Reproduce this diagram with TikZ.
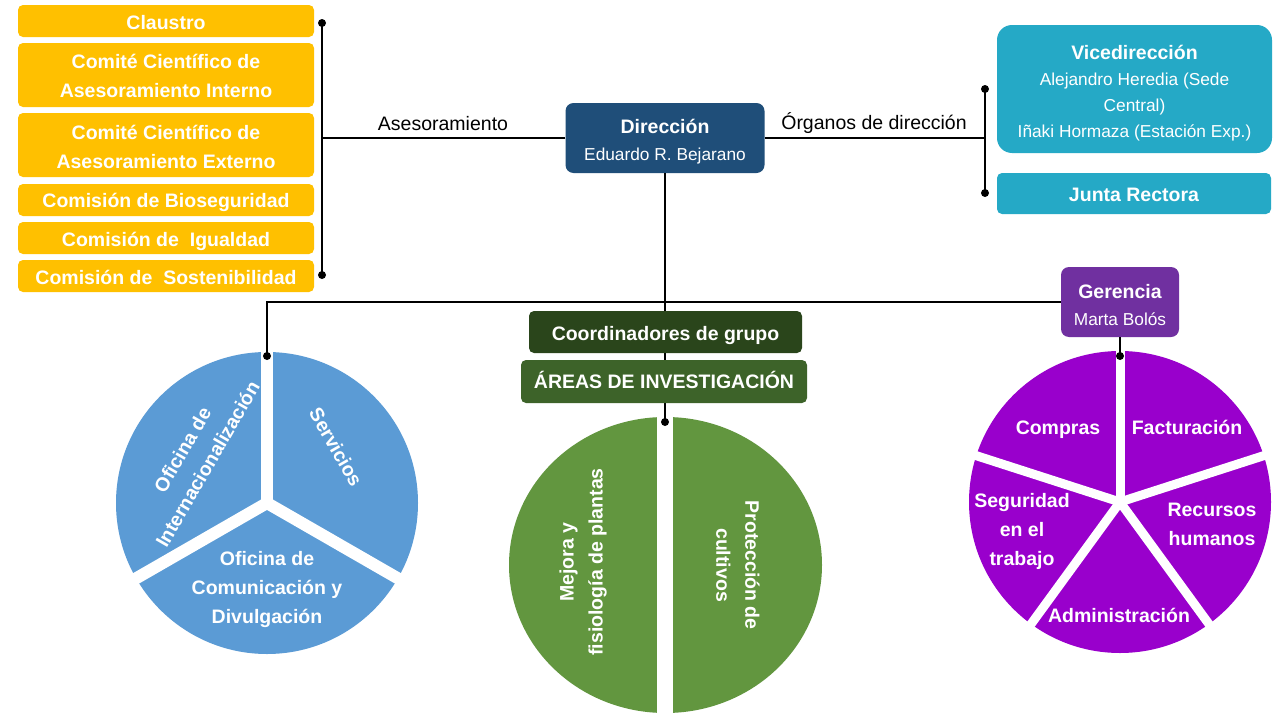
\documentclass[tikz,border=0pt]{standalone}
\usepackage{fontspec}
\setmainfont{Liberation Sans}
\usetikzlibrary{calc}
\definecolor{cYel}{HTML}{FFC000}
\definecolor{cDir}{HTML}{1F4E79}
\definecolor{cTeal}{HTML}{25A9C6}
\definecolor{cGer}{HTML}{7030A0}
\definecolor{cCoord}{HTML}{2A451B}
\definecolor{cArea}{HTML}{3D6329}
\definecolor{cGreen}{HTML}{62963F}
\definecolor{cBlue}{HTML}{5B9BD5}
\definecolor{cPurp}{HTML}{9900CC}
\newcommand{\bfz}{\fontsize{19.5}{29}\selectfont\bfseries}
\tikzset{
  orgbox/.style={rounded corners=5pt, inner sep=0pt},
  ybox/.style={orgbox, fill=cYel, minimum width=296pt, minimum height=32pt},
  txt/.style={text=white, font=\bfz, align=center, inner sep=0pt},
  one/.style={txt, text height=14pt, text depth=0pt},
  sub/.style={txt, font=\fontsize{17.3}{27}\selectfont},
  conn/.style={line width=1.4pt, black},
  dotn/.style={circle, fill=black, inner sep=0pt, minimum size=8pt},
  lbl/.style={font=\fontsize{19.5}{24}\selectfont, inner sep=0pt},
  gapb/.style={white, line width=12pt, line cap=round},
  gapp/.style={white, line width=9pt, line cap=round}
}
\begin{document}
\begin{tikzpicture}[x=1pt, y=-1pt]
\useasboundingbox (0,0) rectangle (1280,720);
\fill[white] (0,0) rectangle (1280,720);

% ---------- pies ----------
\coordinate (bc) at (267,503);
\fill[cBlue] (bc) circle[radius=151pt];
\draw[gapb] (bc) -- (267,345);
\draw[gapb] (bc) -- (128,583);
\draw[gapb] (bc) -- (406,583);
\coordinate (gc) at (665.5,565);
\fill[cGreen] (gc) ellipse[x radius=156.5pt, y radius=148pt];
\fill[white] (657,410) rectangle (673,720);
\coordinate (pc) at (1120,502);
\fill[cPurp] (pc) circle[radius=151pt];
\draw[gapp] (pc) -- (1120,345);
\draw[gapp] (pc) -- (1272,453);
\draw[gapp] (pc) -- (1214,631);
\draw[gapp] (pc) -- (1026,631);
\draw[gapp] (pc) -- (968,453);

% pie labels
\node[txt, rotate=60] (pint) at (195,457) {Oficina de\\Internacionalización};
\node[txt, rotate=-60] (pser) at (336,447) {Servicios};
\node[txt] (pcom) at (267,589) {Oficina de\\Comunicación y\\Divulgación};
\node[txt, rotate=90] (pmej) at (583,562) {Mejora y\\fisiología de plantas};
\node[txt, rotate=-90] (ppro) at (738,565) {Protección de\\cultivos};
\node[one] (pcmp) at (1058,427) {Compras};
\node[one] (pfac) at (1187,427) {Facturación};
\node[txt] (prec) at (1212,524) {Recursos\\humanos};
\node[txt] (pseg) at (1022,531) {Seguridad\\en el\\trabajo};
\node[one] (padm) at (1119,615) {Administración};

% ---------- boxes ----------
\node[ybox] (cla) at (166,21) {};
\node[ybox, minimum height=64pt] (cci) at (166,75) {};
\node[ybox, minimum height=64pt] (cce) at (166,145) {};
\node[ybox] (bio) at (166,200) {};
\node[ybox] (igu) at (166,238) {};
\node[ybox] (sos) at (166,276) {};
\node[one] (clat) at (166,22.5) {Claustro};
\node[txt] (ccit) at (166,76) {Comité Científico de\\Asesoramiento Interno};
\node[txt] (ccet) at (166,147) {Comité Científico de\\Asesoramiento Externo};
\node[one] (biot) at (166,200) {Comisión de Bioseguridad};
\node[one] (igut) at (166,239) {Comisión de~ Igualdad};
\node[one] (sost) at (166,277) {Comisión de~ Sostenibilidad};

\node[orgbox, fill=cDir, rounded corners=8pt, minimum width=199pt, minimum height=70pt] (dir) at (665,138) {};
\node[sub] (dirt) at (665,141.5) {{\bfz Dirección}\\Eduardo R. Bejarano};
\node[orgbox, fill=cTeal, rounded corners=15pt, minimum width=275pt, minimum height=128pt] (vice) at (1134.5,89) {};
\node[sub, font=\fontsize{17.3}{26}\selectfont] (vicet) at (1134.5,93)
      {{\bfz Vicedirección}\\Alejandro Heredia (Sede\\Central)\\Iñaki Hormaza (Estación Exp.)};
\node[orgbox, fill=cTeal, minimum width=274pt, minimum height=41pt] (jun) at (1134,193.5) {};
\node[one] (junt) at (1134,194) {Junta Rectora};
\node[orgbox, fill=cGer, rounded corners=8pt, minimum width=118pt, minimum height=70pt] (ger) at (1120,302) {};
\node[sub] (gert) at (1120,305) {{\bfz Gerencia}\\Marta Bolós};

\node[lbl] (ases) at (443,124) {Asesoramiento};
\node[lbl] (org) at (874,123) {Órganos de dirección};

% ---------- connectors ----------
\coordinate (lbt) at (322,23);
\coordinate (lbb) at (322,275);
\coordinate (rbt) at (985,89);
\coordinate (rbb) at (985,193);
\coordinate (bdot) at (267,356);
\coordinate (gdot) at (665,422);
\coordinate (pdot) at (1120,356);

\draw[conn] (lbt) -- (lbb);
\draw[conn] (dir.west) -- (dir.west -| lbt);
\draw[conn] (dir.east) -- (dir.east -| rbt);
\draw[conn] (rbt) -- (rbb);
\draw[conn] (dir.south) -- (gdot);
\draw[conn] (bdot) |- (ger.west);
\draw[conn] (ger.south) -- (pdot);

\node[orgbox, fill=cCoord, minimum width=273pt, minimum height=42pt] (coord) at (665.5,332) {};
\node[one] (coordt) at (665.5,333) {Coordinadores de grupo};
\node[orgbox, fill=cArea, minimum width=286pt, minimum height=43pt] (areas) at (664,381.5) {};
\node[one] (areast) at (664,381) {ÁREAS DE INVESTIGACIÓN};

\foreach \d in {lbt,lbb,rbt,rbb,bdot,gdot,pdot} \node[dotn] at (\d) {};
\end{tikzpicture}
\end{document}
